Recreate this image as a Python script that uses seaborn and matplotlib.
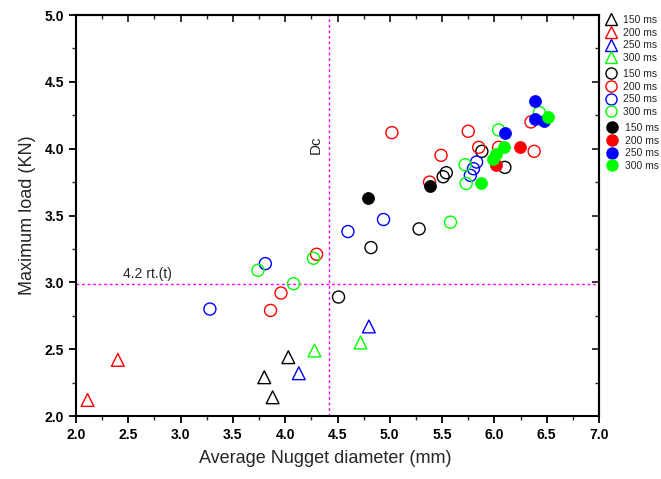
import matplotlib
matplotlib.use("Agg")
import matplotlib.pyplot as plt
from matplotlib.lines import Line2D
from matplotlib.ticker import MultipleLocator
import seaborn as sns
import pandas as pd

# ---- data ----
times = ["150 ms", "200 ms", "250 ms", "300 ms"]
colors = ["#000000", "#FF0000", "#0000FF", "#00FF00"]

# open triangles
tri_150_x = [3.80, 3.88, 4.03]
tri_150_y = [2.29, 2.14, 2.44]
tri_200_x = [2.11, 2.40]
tri_200_y = [2.12, 2.42]
tri_250_x = [4.13, 4.80]
tri_250_y = [2.32, 2.67]
tri_300_x = [4.28, 4.72]
tri_300_y = [2.49, 2.55]

# open circles
oc_150_x = [4.51, 4.82, 5.28, 5.51, 5.54, 5.88, 6.10]
oc_150_y = [2.89, 3.26, 3.40, 3.79, 3.82, 3.98, 3.86]
oc_200_x = [3.86, 3.96, 4.30, 5.02, 5.38, 5.49, 5.75, 5.85, 6.04, 6.35, 6.38]
oc_200_y = [2.79, 2.92, 3.21, 4.12, 3.75, 3.95, 4.13, 4.01, 4.01, 4.20, 3.98]
oc_250_x = [3.28, 3.81, 4.60, 4.94, 5.77, 5.80, 5.83]
oc_250_y = [2.80, 3.14, 3.38, 3.47, 3.80, 3.85, 3.90]
oc_300_x = [3.74, 4.08, 4.27, 5.58, 5.72, 5.73, 6.04, 6.43]
oc_300_y = [3.09, 2.99, 3.18, 3.45, 3.88, 3.74, 4.14, 4.27]

# filled circles
fc_150_x = [4.79, 5.38]
fc_150_y = [3.63, 3.72]
fc_200_x = [6.02, 6.24]
fc_200_y = [3.88, 4.01]
fc_250_x = [6.10, 6.39, 6.39, 6.47]
fc_250_y = [4.12, 4.36, 4.22, 4.21]
fc_300_x = [5.87, 5.99, 6.02, 6.09, 6.51]
fc_300_y = [3.74, 3.92, 3.96, 4.01, 4.24]

dc_x = 4.42
ref_y = 2.99

# ---- build frames ----
def frame(groups, kind):
    rows = []
    for t, (xs, ys) in zip(times, groups):
        for x, y in zip(xs, ys):
            rows.append({"x": x, "y": y, "time": t, "kind": kind})
    return pd.DataFrame(rows)

df_tri = frame([(tri_150_x, tri_150_y), (tri_200_x, tri_200_y),
                (tri_250_x, tri_250_y), (tri_300_x, tri_300_y)], "tri")
df_oc = frame([(oc_150_x, oc_150_y), (oc_200_x, oc_200_y),
               (oc_250_x, oc_250_y), (oc_300_x, oc_300_y)], "oc")
df_fc = frame([(fc_150_x, fc_150_y), (fc_200_x, fc_200_y),
               (fc_250_x, fc_250_y), (fc_300_x, fc_300_y)], "fc")

sns.set_theme(style="white")
plt.rcParams["font.family"] = ["Liberation Sans", "DejaVu Sans"]

fig = plt.figure(figsize=(6.61, 4.79), dpi=100)
ax = fig.add_axes([76 / 661, 1 - 416 / 479, (599 - 76) / 661, (416 - 15) / 479])

pal = dict(zip(times, colors))

# open circles
for t in times:
    sub = df_oc[df_oc.time == t]
    sns.scatterplot(data=sub, x="x", y="y", ax=ax, marker="o", s=75,
                    facecolor="none", edgecolor=pal[t], linewidth=1.0, legend=False, zorder=3)
# filled circles
for t in times:
    sub = df_fc[df_fc.time == t]
    sns.scatterplot(data=sub, x="x", y="y", ax=ax, marker="o", s=75,
                    color=pal[t], edgecolor=pal[t], linewidth=0.5, legend=False, zorder=4)
# open triangles
for t in times:
    sub = df_tri[df_tri.time == t]
    sns.scatterplot(data=sub, x="x", y="y", ax=ax, marker="^", s=85,
                    facecolor="none", edgecolor=pal[t], linewidth=1.0, legend=False, zorder=3)

ax.axvline(dc_x, color="#FF00FF", linestyle=(0, (2, 2)), linewidth=1.0, zorder=2)
ax.axhline(ref_y, color="#FF00FF", linestyle=(0, (2, 2)), linewidth=1.0, zorder=2)
ax.text(4.29, 4.03, "Dc", rotation=90, ha="center", va="center", fontsize=11)
ax.text(2.45, 3.01, "4.2 rt.(t)", ha="left", va="bottom", fontsize=10)

ax.set_xlim(2.0, 7.0)
ax.set_ylim(2.0, 5.0)
ax.xaxis.set_major_locator(MultipleLocator(0.5))
ax.xaxis.set_minor_locator(MultipleLocator(0.25))
ax.yaxis.set_major_locator(MultipleLocator(0.5))
ax.yaxis.set_minor_locator(MultipleLocator(0.25))
ax.xaxis.set_major_formatter(matplotlib.ticker.FormatStrFormatter("%.1f"))
ax.yaxis.set_major_formatter(matplotlib.ticker.FormatStrFormatter("%.1f"))

for sp in ax.spines.values():
    sp.set_visible(True)
    sp.set_color("black")
    sp.set_linewidth(1.5)

ax.tick_params(axis="both", which="major", direction="out", length=5, width=1.3,
               labelsize=10, colors="black", bottom=True, left=True)
ax.tick_params(axis="both", which="minor", direction="out", length=3, width=1.0,
               bottom=True, left=True)
for lab in ax.get_xticklabels() + ax.get_yticklabels():
    lab.set_fontweight("bold")

# inward ticks on top and right
secx = ax.secondary_xaxis("top")
secx.xaxis.set_major_locator(MultipleLocator(0.5))
secx.xaxis.set_minor_locator(MultipleLocator(0.25))
secx.tick_params(which="major", direction="in", length=5, width=1.3, labeltop=False)
secx.tick_params(which="minor", direction="in", length=3, width=1.0)
secx.spines["top"].set_linewidth(1.5)
secy = ax.secondary_yaxis("right")
secy.yaxis.set_major_locator(MultipleLocator(0.5))
secy.yaxis.set_minor_locator(MultipleLocator(0.25))
secy.tick_params(which="major", direction="in", length=5, width=1.3, labelright=False)
secy.tick_params(which="minor", direction="in", length=3, width=1.0)
secy.spines["right"].set_linewidth(1.5)

ax.set_xlabel("Average Nugget diameter (mm)", fontsize=13, labelpad=8)
ax.set_ylabel("Maximum load (KN)", fontsize=13, labelpad=6)
ax.xaxis.set_label_coords(0.477, -0.085)

# legends
def make_leg(marker, filled, top_px, left_px, pad):
    handles = []
    for t in times:
        c = pal[t]
        handles.append(Line2D([], [], linestyle="none", marker=marker, markersize=8,
                              markerfacecolor=(c if filled else "none"),
                              markeredgecolor=c, markeredgewidth=1.0, label=t))
    leg = fig.legend(handles=handles, loc="upper left",
                     bbox_to_anchor=(left_px / 661, 1 - top_px / 479),
                     frameon=False, fontsize=7.5, labelspacing=0.25,
                     handlelength=1.2, handletextpad=pad, borderpad=0.0,
                     borderaxespad=0.0)
    return leg

make_leg("^", False, 15, 605, 0.5)
make_leg("o", False, 69, 605, 0.5)
make_leg("o", True, 123, 606, 0.65)

fig.savefig("out.png", dpi=100)
